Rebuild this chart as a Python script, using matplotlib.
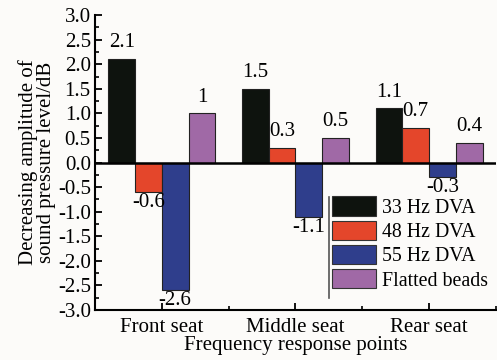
import matplotlib.pyplot as plt
import numpy as np
from matplotlib.ticker import MultipleLocator, FixedLocator
from matplotlib.lines import Line2D

plt.rcParams['font.family'] = ['Liberation Serif', 'DejaVu Serif']

positions = ['Front seat', 'Middle seat', 'Rear seat']
series = ['33 Hz DVA', '48 Hz DVA', '55 Hz DVA', 'Flatted beads']
dva33 = [2.1, 1.5, 1.1]
dva48 = [-0.6, 0.3, 0.7]
dva55 = [-2.6, -1.1, -0.3]
beads = [1, 0.5, 0.4]
value_text = [['2.1', '1.5', '1.1'], ['-0.6', '0.3', '0.7'],
              ['-2.6', '-1.1', '-0.3'], ['1', '0.5', '0.4']]
colors = ['#0e130e', '#e4462b', '#2f3e8c', '#a069a6']

fs = 15
fig = plt.figure(figsize=[4.97, 3.6], dpi=100, facecolor='#fcfbf9')
ax = fig.add_axes([0.191, 0.139, 0.807, 0.819], facecolor='#fcfbf9')

x = np.arange(len(positions))
w = 0.2
for i, (vals, c) in enumerate(zip([dva33, dva48, dva55, beads], colors)):
    off = (i - 1.5) * w
    ax.bar(x + off, vals, w, color=c, edgecolor='#222222', linewidth=0.8,
           label=series[i])
    for xi, v, t in zip(x, vals, value_text[i]):
        if v >= 0:
            ax.text(xi + off, v + 0.14, t, ha='center', va='bottom', fontsize=fs)
        else:
            ax.text(xi + off, v - 0.02, t, ha='center', va='top', fontsize=fs)

ax.axhline(0, color='black', linewidth=1.8, zorder=3)

ax.set_xlim(-0.5, 2.5)
ax.set_ylim(-3.0, 3.0)
ax.yaxis.set_major_locator(MultipleLocator(0.5))
ax.yaxis.set_minor_locator(MultipleLocator(0.25))
ax.set_xticks(x)
ax.set_xticklabels(positions)
ax.xaxis.set_minor_locator(FixedLocator([0.5, 1.5, 2.5]))
ax.tick_params(axis='both', which='major', direction='in', length=5, width=1.3,
               labelsize=fs, pad=3)
ax.tick_params(axis='x', which='major', pad=6)
ax.tick_params(axis='both', which='minor', direction='in', length=3, width=1.2)
ax.yaxis.set_major_formatter(plt.FuncFormatter(lambda v, p: f'{v:.1f}'))

for s in ['top', 'right']:
    ax.spines[s].set_visible(False)
for s in ['left', 'bottom']:
    ax.spines[s].set_linewidth(1.5)

ax.set_ylabel('Decreasing amplitude of\nsound pressure level/dB', fontsize=fs,
              linespacing=0.95, labelpad=1)
ax.set_xlabel('Frequency response points', fontsize=fs, labelpad=-1)

leg = ax.legend(loc='upper left', bbox_to_anchor=(0.59, 0.385), frameon=False,
                fontsize=14.3, handlelength=2.25, handleheight=1.1,
                labelspacing=0.15, handletextpad=0.3, borderaxespad=0,
                borderpad=0)
for p in leg.get_patches():
    p.set_edgecolor('#333333')
fig.add_artist(Line2D([329 / 497, 329 / 497], [1 - 197 / 360, 1 - 298 / 360],
                      color='#555555', linewidth=1.2))

plt.savefig('out.png', dpi=100, facecolor=fig.get_facecolor())
